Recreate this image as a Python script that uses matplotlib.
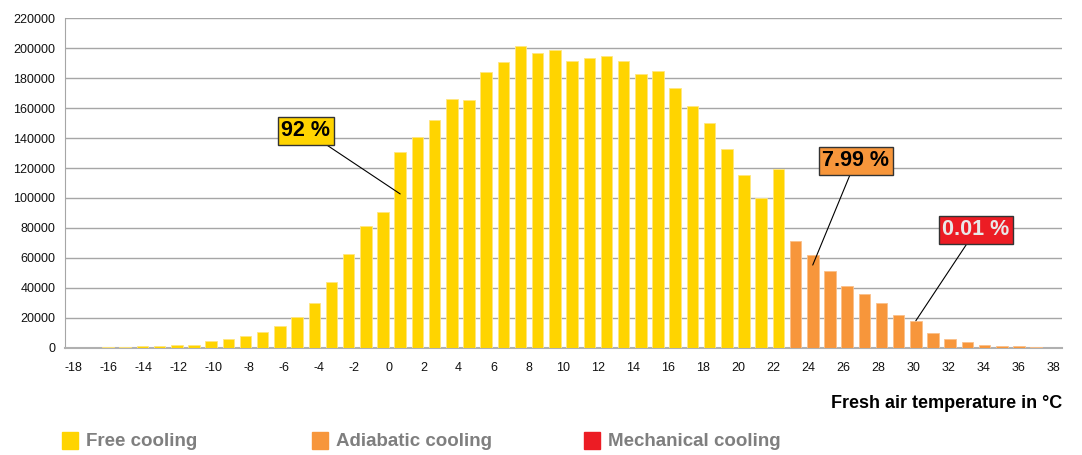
"""Cooling mode distribution by fresh air temperature."""
import matplotlib
matplotlib.use("Agg")
import matplotlib.pyplot as plt
from matplotlib.patches import Rectangle

# one bar per degree, -18 .. 39 °C (hours in the year)
TEMPS = list(range(-18, 40))
HOURS = [
    0, 300, 400, 600, 1100, 1100, 1700, 1700, 4400, 6000,
    7700, 10900, 14400, 20700, 29800, 43800, 62700, 81500, 90900, 130500,
    140900, 152000, 166000, 165300, 183800, 190700, 201300, 197000, 198700, 191300,
    193300, 194900, 191500, 182900, 184700, 173300, 161300, 150200, 132900, 115300,
    100000, 119300, 71200, 62300, 51000, 41000, 36300, 29700, 22300, 17700,
    10300, 6100, 3900, 2300, 1200, 1200, 400, 200,
]
# cooling mode of each bar: 0 free, 1 adiabatic, 2 mechanical
MODE = [0] * 42 + [1] * 16

MODE_NAMES = ["Free cooling", "Adiabatic cooling", "Mechanical cooling"]
MODE_COLORS = ["#FFD400", "#F7963B", "#EC1C24"]
EDGE_COLORS = ["#FFE680", "#FBC08A", "#F27A7E"]

# share labels: text, box colour, text colour, (temp, hours) pointed at, box position
SHARE_LABELS = ["92 %", "7.99 %", "0.01 %"]
SHARE_TARGETS = [(1, 102700), (25, 55300), (31, 18200)]
SHARE_BOXES = [(-4.5, 144700), (27.5, 124700), (34.5, 78700)]
SHARE_TEXT_COLORS = ["black", "black", "#E8E8E8"]

X_TICKS = list(range(-18, 39, 2))
Y_TICKS = list(range(0, 220001, 20000))

plt.rcParams["font.family"] = ["Liberation Sans", "DejaVu Sans"]

fig = plt.figure(figsize=(10.82, 4.55), dpi=100)
ax = fig.add_axes([0.0601, 0.2352, 0.9214, 0.7252])

ax.bar(
    TEMPS, HOURS, width=0.67,
    color=[MODE_COLORS[m] for m in MODE],
    edgecolor=[EDGE_COLORS[m] for m in MODE],
    linewidth=0.6, zorder=3,
)

ax.set_xlim(TEMPS[0] - 0.5, TEMPS[-1] + 0.5)
ax.set_ylim(0, 220000)
ax.set_yticks(Y_TICKS)
ax.set_yticklabels([str(v) for v in Y_TICKS])
ax.grid(axis="y", color="#A6A6A6", linewidth=1.0, zorder=0)
ax.tick_params(axis="y", length=0, pad=7, labelsize=9, labelcolor="#111111")
ax.set_xticks([])

for side in ("top", "right"):
    ax.spines[side].set_visible(False)
ax.spines["left"].set_color("#A6A6A6")
ax.spines["bottom"].set_color("#B0B0B0")
ax.spines["bottom"].set_linewidth(1.5)

# the original temperature labels are spread over 57 slots while there are 58 bars
n_bars = len(TEMPS)
lo = TEMPS[0] - 0.5


def to_label(x):
    return lo + (x - lo) * (n_bars - 1) / n_bars


def to_bar(t):
    return lo + (t - lo) * n_bars / (n_bars - 1)


sec = ax.secondary_xaxis("bottom", functions=(to_label, to_bar))
sec.set_xticks(X_TICKS)
sec.set_xticklabels([str(t) for t in X_TICKS])
sec.tick_params(length=0, pad=10, labelsize=9, labelcolor="#111111")
sec.spines["bottom"].set_visible(False)

fig.text(0.9815, 0.114, "Fresh air temperature in °C", ha="right", va="center",
         fontsize=13, fontweight="bold", color="black")

for i, label in enumerate(SHARE_LABELS):
    ax.annotate(
        label, xy=SHARE_TARGETS[i], xytext=SHARE_BOXES[i],
        ha="center", va="center", fontsize=15.5, fontweight="bold",
        color=SHARE_TEXT_COLORS[i], zorder=5,
        bbox=dict(boxstyle="square,pad=0.16", fc=MODE_COLORS[i], ec="#333333", lw=1.0),
        arrowprops=dict(arrowstyle="-", color="black", lw=0.8, shrinkA=0, shrinkB=0),
    )

# legend row under the chart
legend_x = [62, 312, 584]
for i, name in enumerate(MODE_NAMES):
    x0 = legend_x[i] / 1082
    fig.patches.append(Rectangle((x0, 1 - 449 / 455), 16 / 1082, 17 / 455,
                                 transform=fig.transFigure, color=MODE_COLORS[i]))
    fig.text(x0 + 24 / 1082, 1 - 441 / 455, name, ha="left", va="center",
             fontsize=13.5, fontweight="bold", color="#7F7F7F")

fig.savefig("out.png", dpi=100)
